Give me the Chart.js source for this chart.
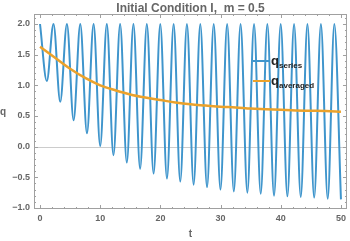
<!DOCTYPE html>
<html>
<head>
<meta charset="utf-8">
<script src="https://cdn.jsdelivr.net/npm/chart.js@4/dist/chart.umd.min.js"></script>
<style>
  html, body { margin: 0; padding: 0; background: #fff; }
  canvas { display: block; }
</style>
</head>
<body>
<canvas id="plot" width="350" height="241"></canvas>
<script>
// q_series: read at its turning points (peaks at 2.0, troughs drifting down)
const seriesT = [0, 1.13, 2.24, 3.36, 4.47, 5.58, 6.69, 7.80, 8.90, 10.00,
                 11.10, 12.20, 13.31, 14.42, 15.52, 16.63, 17.75, 18.87, 19.98, 21.09,
                 22.20, 23.30, 24.41, 25.52, 26.63, 27.75, 28.86, 29.98, 31.09, 32.20,
                 33.32, 34.45, 35.56, 36.67, 37.77, 38.88, 39.99, 41.10, 42.21, 43.32,
                 44.43, 45.55, 46.67, 47.80, 48.90, 50.00];
const seriesQ = [2.0, 1.07, 2.0, 0.73, 2.0, 0.43, 2.0, 0.22, 2.0, 0.01,
                 2.0, -0.14, 2.0, -0.26, 2.0, -0.36, 2.0, -0.44, 2.0, -0.52,
                 2.0, -0.57, 2.0, -0.62, 2.0, -0.66, 2.0, -0.70, 2.0, -0.73,
                 2.0, -0.75, 2.0, -0.77, 2.0, -0.80, 2.0, -0.81, 2.0, -0.82,
                 2.0, -0.83, 2.0, -0.85, 2.0, -0.86];

// q_averaged
const averagedT = [0, 2.5, 5, 7.5, 10, 12.5, 15, 17.5, 20, 22.5, 25,
                   27.5, 30, 32.5, 35, 37.5, 40, 42.5, 45, 47.5, 50];
const averagedQ = [1.63, 1.45, 1.27, 1.12, 1.00, 0.92, 0.85, 0.80, 0.76, 0.72, 0.69,
                   0.67, 0.65, 0.64, 0.62, 0.61, 0.60, 0.59, 0.585, 0.58, 0.57];

const xTicks = [0, 10, 20, 30, 40, 50];
const xTickLabels = ['0', '10', '20', '30', '40', '50'];
const yTicks = [-1, -0.5, 0, 0.5, 1, 1.5, 2];
const yTickLabels = ['\u22121.0', '\u22120.5', '0.0', '0.5', '1.0', '1.5', '2.0'];

const BLUE = '#3f95cc';
const ORANGE = '#eba22b';
const GREY = '#666';
const FRAME = '#a0a0a0';
const FONT = '"Liberation Sans", Arial, sans-serif';

function minorTicks(major, parts) {
    const step = major[1] - major[0];
    const out = [];
    for (let i = -1; i < major.length; i++) {
        const base = i < 0 ? major[0] - step : major[i];
        for (let k = 1; k < parts; k++) out.push(base + step * k / parts);
    }
    return out;
}

const decorations = {
    id: 'decorations',
    beforeDatasetsDraw(chart) {
        const { ctx, chartArea: a, scales: { y } } = chart;
        const y0 = Math.round(y.getPixelForValue(0)) + 0.5;
        ctx.save();
        ctx.strokeStyle = '#cccccc';
        ctx.lineWidth = 1;
        ctx.beginPath();
        ctx.moveTo(a.left, y0);
        ctx.lineTo(a.right, y0);
        ctx.stroke();
        ctx.restore();
    },
    afterDraw(chart) {
        const { ctx, chartArea: a, scales: { x, y } } = chart;
        ctx.save();

        // frame
        ctx.strokeStyle = FRAME;
        ctx.lineWidth = 1;
        ctx.strokeRect(a.left + 0.5, a.top + 0.5, a.right - a.left - 1, a.bottom - a.top - 1);

        // frame ticks, pointing inwards on all four sides
        const tick = (v, len, axis) => {
            if (axis === 'x') {
                if (v < x.min || v > x.max) return;
                const px = Math.round(x.getPixelForValue(v)) + 0.5;
                ctx.moveTo(px, a.bottom); ctx.lineTo(px, a.bottom - len);
                ctx.moveTo(px, a.top); ctx.lineTo(px, a.top + len);
            } else {
                if (v < y.min || v > y.max) return;
                const py = Math.round(y.getPixelForValue(v)) + 0.5;
                ctx.moveTo(a.left, py); ctx.lineTo(a.left + len, py);
                ctx.moveTo(a.right, py); ctx.lineTo(a.right - len, py);
            }
        };
        ctx.beginPath();
        xTicks.forEach(v => tick(v, 4, 'x'));
        minorTicks(xTicks, 5).forEach(v => tick(v, 2, 'x'));
        yTicks.forEach(v => tick(v, 4, 'y'));
        minorTicks(yTicks, 5).forEach(v => tick(v, 2, 'y'));
        ctx.stroke();

        // title
        ctx.fillStyle = GREY;
        ctx.font = 'bold 12px ' + FONT;
        ctx.textAlign = 'center';
        ctx.textBaseline = 'alphabetic';
        ctx.fillText('Initial Condition I,  m = 0.5', (a.left + a.right) / 2, 12);

        // axis labels
        ctx.font = 'bold 10px ' + FONT;
        ctx.fillText('t', (a.left + a.right) / 2, 237);
        ctx.textAlign = 'left';
        ctx.fillText('q', 0, 115);

        // legend
        const items = [
            { color: BLUE, sub: 'series', y: 61 },
            { color: ORANGE, sub: 'averaged', y: 81 }
        ];
        items.forEach(it => {
            ctx.strokeStyle = it.color;
            ctx.lineWidth = 2;
            ctx.beginPath();
            ctx.moveTo(253, it.y);
            ctx.lineTo(270, it.y);
            ctx.stroke();
            ctx.fillStyle = '#222';
            ctx.font = 'bold 13px ' + FONT;
            ctx.fillText('q', 271, it.y + 4);
            ctx.font = 'bold 8px ' + FONT;
            ctx.fillText(it.sub, 279, it.y + 6.5);
        });

        ctx.restore();
    }
};

new Chart(document.getElementById('plot').getContext('2d'), {
    type: 'line',
    data: {
        datasets: [
            {
                label: 'q_series',
                data: seriesT.map((t, i) => ({ x: t, y: seriesQ[i] })),
                borderColor: BLUE,
                borderWidth: 2,
                pointRadius: 0,
                cubicInterpolationMode: 'monotone',
                order: 1
            },
            {
                label: 'q_averaged',
                data: averagedT.map((t, i) => ({ x: t, y: averagedQ[i] })),
                borderColor: ORANGE,
                borderWidth: 2.5,
                pointRadius: 0,
                cubicInterpolationMode: 'monotone',
                order: 0
            }
        ]
    },
    options: {
        responsive: false,
        animation: false,
        devicePixelRatio: 1,
        layout: { padding: { top: 14, right: 2, left: 0, bottom: 0 } },
        plugins: {
            legend: { display: false },
            title: { display: false },
            tooltip: { enabled: false }
        },
        scales: {
            x: {
                type: 'linear',
                min: -1,
                max: 51,
                grid: { display: false, drawTicks: false },
                border: { display: false },
                afterBuildTicks: s => { s.ticks = xTicks.map(v => ({ value: v })); },
                afterFit: s => { s.height = 32; },
                ticks: {
                    padding: 4,
                    color: GREY,
                    font: { family: FONT, size: 9, weight: 'bold' },
                    maxRotation: 0,
                    callback: v => xTickLabels[xTicks.indexOf(v)]
                }
            },
            y: {
                min: -1.017,
                max: 2.163,
                grid: { display: false, drawTicks: false },
                border: { display: false },
                afterBuildTicks: s => { s.ticks = yTicks.map(v => ({ value: v })); },
                afterFit: s => { s.width = 34; },
                ticks: {
                    padding: 4,
                    color: GREY,
                    font: { family: FONT, size: 9, weight: 'bold' },
                    callback: v => yTickLabels[yTicks.indexOf(v)]
                }
            }
        }
    },
    plugins: [decorations]
});
</script>
</body>
</html>
